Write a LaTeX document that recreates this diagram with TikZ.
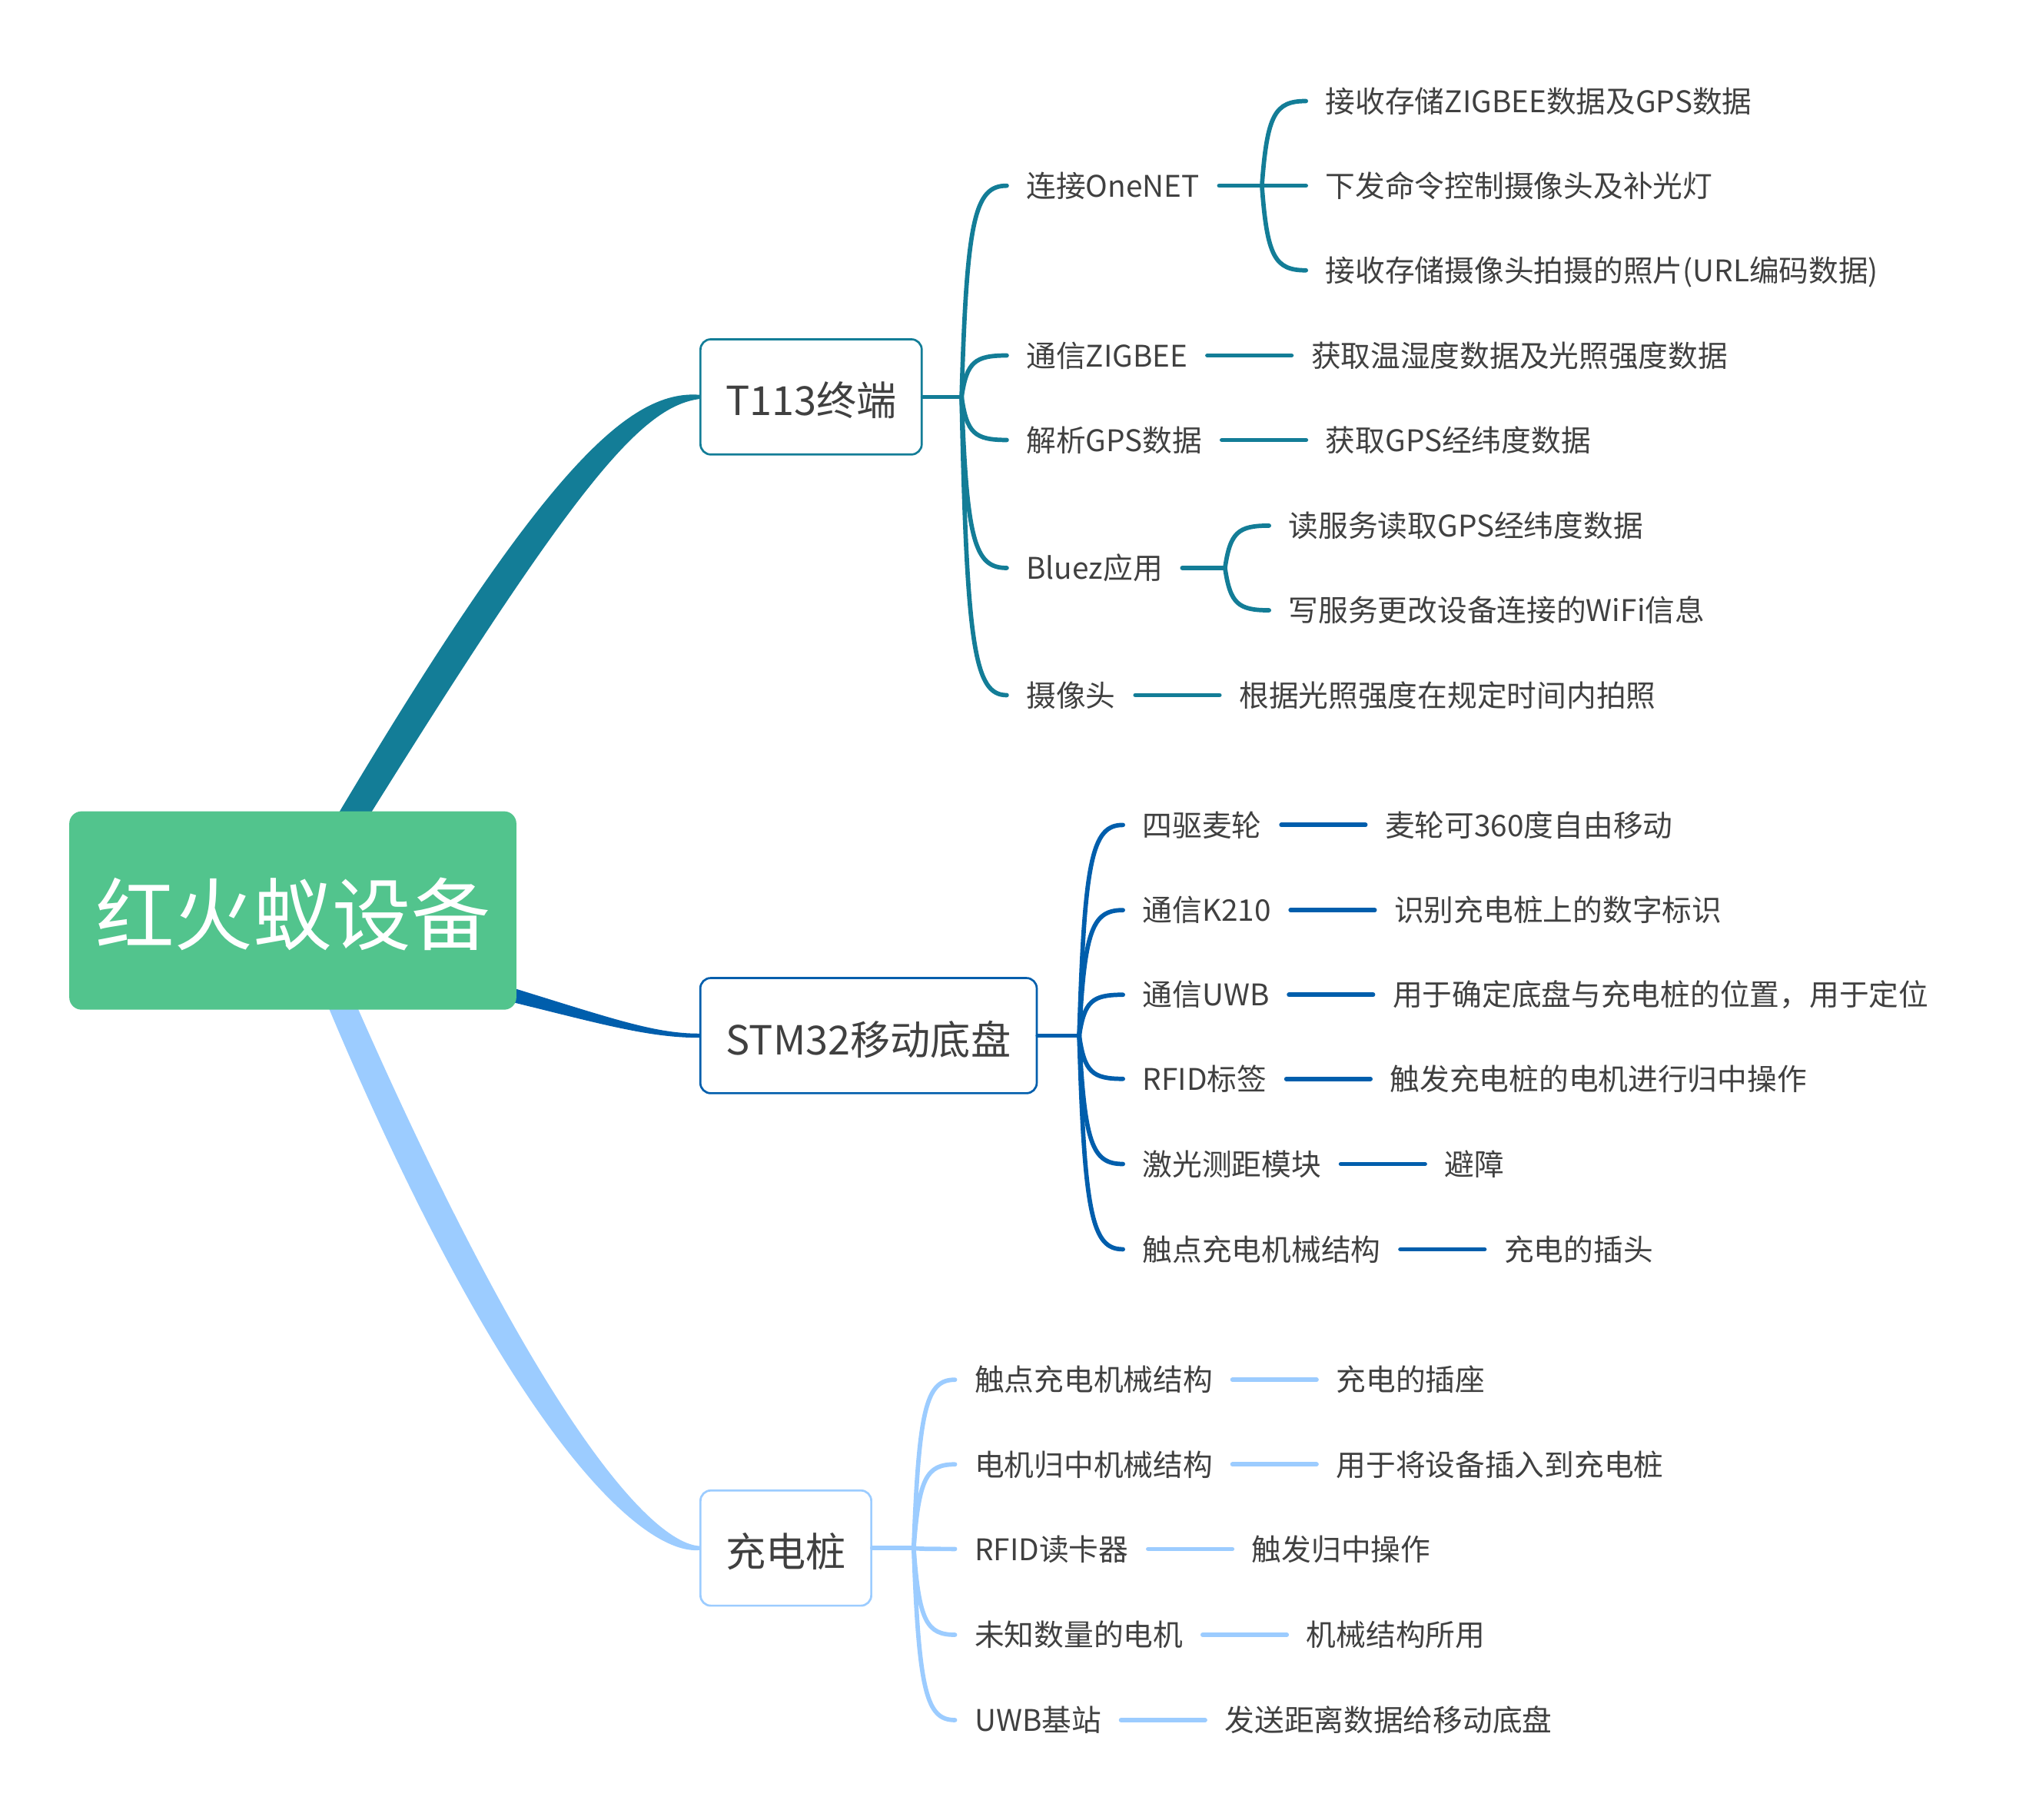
\documentclass[tikz,border=0pt]{standalone}
\usepackage{fontspec}
\setmainfont{Noto Sans CJK SC}
\usepackage{tikz}
\usetikzlibrary{positioning, calc, backgrounds}
\definecolor{rootgreen}{RGB}{82, 196, 141}
\definecolor{t113col}{RGB}{19, 125, 151}
\definecolor{stmcol}{RGB}{0, 94, 172}
\definecolor{cdzcol}{RGB}{156, 204, 255}
\definecolor{wordgray}{RGB}{64, 64, 64}

\tikzset{
  rootbox/.style={fill=rootgreen, rounded corners=9.5pt, minimum width=345.5pt, minimum height=153.3pt,
    inner sep=0pt, text=white, font=\fontsize{61}{70}\selectfont, text height=55pt, text depth=2.8pt},
  topic/.style={draw=#1, line width=1.6pt, rounded corners=8pt, fill=white, minimum height=89pt,
    inner xsep=4pt, inner ysep=0pt, text=wordgray, font=\fontsize{31}{36}\selectfont, text height=31pt, text depth=1.8pt},
  item/.style={inner xsep=15pt, inner ysep=0pt, text=wordgray, font=\fontsize{23}{27}\selectfont,
    text height=19.5pt, text depth=2pt},
  tline/.style={draw=t113col, line width=3.4pt, line cap=round},
  sline/.style={draw=stmcol, line width=3.4pt, line cap=round},
  cline/.style={draw=cdzcol, line width=3.4pt, line cap=round},
}

\begin{document}
\begin{tikzpicture}[x=1pt, y=-1pt]
    \useasboundingbox (0,0) rectangle (1568,1405.9);

    % 中心主题
    \node[rootbox] (root) at (226.3,703.6) {红火蚁设备};

    % 三个分支主题
    \node[topic=t113col, minimum width=171pt] (t113) at (626.8,306.7) {T113终端};
    \node[topic=stmcol, minimum width=260pt] (stm) at (671.2,800.3) {STM32移动底盘};
    \node[topic=cdzcol, minimum width=132pt] (cdz) at (607.3,1196.3) {充电桩};

    % 主干（渐细的曲线）
    \begin{scope}[on background layer]
        \fill[t113col] (261,629.5) .. controls (419.4,363.4) and (485.6,301) .. ($(t113.west)+(0,-1.6)$)
            -- ($(t113.west)+(0,1.6)$) .. controls (494.4,314.4) and (442.6,377.6) .. (279,640.5) -- cycle;
        \fill[stmcol] (390,761.5) .. controls (470,786) and (505,798.8) .. ($(stm.west)+(0,-1.6)$)
            -- ($(stm.west)+(0,1.6)$) .. controls (500,802) and (460,790) .. (390,773) -- cycle;
        \fill[cdzcol] (252.8,776) .. controls (393.1,1110.1) and (496.2,1201.7) .. ($(cdz.west)+(0,1.6)$)
            -- ($(cdz.west)+(0,-1.6)$) .. controls (503.8,1192.3) and (416.9,1099.9) .. (271.6,768) -- cycle;
    \end{scope}

    % T113终端 的子主题
    \coordinate (tf) at ($(t113.east)+(30,0)$);
    \node[item, anchor=west] (t1) at (778,143.5) {连接OneNET};
    \node[item, anchor=west] (t2) at (778,274.7) {通信ZIGBEE};
    \node[item, anchor=west] (t3) at (778,340) {解析GPS数据};
    \node[item, anchor=west] (t4) at (778,438.9) {Bluez应用};
    \node[item, anchor=west] (t5) at (778,537.2) {摄像头};

    \coordinate[right=33pt of t1] (t1f);
    \node[item, anchor=west] (t1a) at ($(t1f)+(34,-65.4)$) {接收存储ZIGBEE数据及GPS数据};
    \node[item, anchor=west] (t1b) at ($(t1f)+(34,0)$) {下发命令控制摄像头及补光灯};
    \node[item, anchor=west] (t1c) at ($(t1f)+(34,65.4)$) {接收存储摄像头拍摄的照片(URL编码数据)};
    \node[item, right=65pt of t2] (t2a) {获取温湿度数据及光照强度数据};
    \node[item, right=65pt of t3] (t3a) {获取GPS经纬度数据};
    \coordinate[right=33pt of t4] (t4f);
    \node[item, anchor=west] (t4a) at ($(t4f)+(34,-32.7)$) {读服务读取GPS经纬度数据};
    \node[item, anchor=west] (t4b) at ($(t4f)+(34,32.7)$) {写服务更改设备连接的WiFi信息};
    \node[item, right=65pt of t5] (t5a) {根据光照强度在规定时间内拍照};

    \draw[tline] (t113.east) -- (tf);
    \foreach \c in {t1,t2,t3,t4,t5}
        \draw[tline] (tf) .. controls ($(tf)!0.84!(tf|-\c.west)+(4,0)$) and ($(tf|-\c.west)+(10,0)$) .. (\c.west);
    \draw[tline] (t1.east) -- (t1f);
    \foreach \c in {t1a,t1b,t1c}
        \draw[tline] (t1f) .. controls ($(t1f)!0.84!(t1f|-\c.west)+(4,0)$) and ($(t1f|-\c.west)+(10,0)$) .. (\c.west);
    \draw[tline] (t4.east) -- (t4f);
    \foreach \c in {t4a,t4b}
        \draw[tline] (t4f) .. controls ($(t4f)!0.84!(t4f|-\c.west)+(4,0)$) and ($(t4f|-\c.west)+(10,0)$) .. (\c.west);
    \draw[tline] (t2.east) -- (t2a.west);
    \draw[tline] (t3.east) -- (t3a.west);
    \draw[tline] (t5.east) -- (t5a.west);

    % STM32移动底盘 的子主题
    \coordinate (sf) at ($(stm.east)+(32,0)$);
    \node[item, anchor=west] (s1) at (867.8,637.5) {四驱麦轮};
    \node[item, anchor=west] (s2) at (867.8,703.3) {通信K210};
    \node[item, anchor=west] (s3) at (867.8,768.7) {通信UWB};
    \node[item, anchor=west] (s4) at (867.8,833.7) {RFID标签};
    \node[item, anchor=west] (s5) at (867.8,899.5) {激光测距模块};
    \node[item, anchor=west] (s6) at (867.8,965.4) {触点充电机械结构};

    \node[item, right=65pt of s1] (s1a) {麦轮可360度自由移动};
    \node[item, right=65pt of s2] (s2a) {识别充电桩上的数字标识};
    \node[item, right=65pt of s3] (s3a) {用于确定底盘与充电桩的位置，用于定位};
    \node[item, right=65pt of s4] (s4a) {触发充电桩的电机进行归中操作};
    \node[item, right=65pt of s5] (s5a) {避障};
    \node[item, right=65pt of s6] (s6a) {充电的插头};

    \draw[sline] (stm.east) -- (sf);
    \foreach \c in {s1,s2,s3,s4,s5,s6}
        \draw[sline] (sf) .. controls ($(sf)!0.84!(sf|-\c.west)+(4,0)$) and ($(sf|-\c.west)+(10,0)$) .. (\c.west);
    \foreach \c in {s1,s2,s3,s4,s5,s6}
        \draw[sline] (\c.east) -- (\c a.west);

    % 充电桩 的子主题
    \coordinate (cf) at ($(cdz.east)+(32,0)$);
    \node[item, anchor=west] (c1) at (738,1066.2) {触点充电机械结构};
    \node[item, anchor=west] (c2) at (738,1131.6) {电机归中机械结构};
    \node[item, anchor=west] (c3) at (738,1197) {RFID读卡器};
    \node[item, anchor=west] (c4) at (738,1263.3) {未知数量的电机};
    \node[item, anchor=west] (c5) at (738,1329.2) {UWB基站};

    \node[item, right=65pt of c1] (c1a) {充电的插座};
    \node[item, right=65pt of c2] (c2a) {用于将设备插入到充电桩};
    \node[item, right=65pt of c3] (c3a) {触发归中操作};
    \node[item, right=65pt of c4] (c4a) {机械结构所用};
    \node[item, right=65pt of c5] (c5a) {发送距离数据给移动底盘};

    \draw[cline] (cdz.east) -- (cf);
    \foreach \c in {c1,c2,c3,c4,c5}
        \draw[cline] (cf) .. controls ($(cf)!0.84!(cf|-\c.west)+(4,0)$) and ($(cf|-\c.west)+(10,0)$) .. (\c.west);
    \foreach \c in {c1,c2,c3,c4,c5}
        \draw[cline] (\c.east) -- (\c a.west);

\end{tikzpicture}
\end{document}
